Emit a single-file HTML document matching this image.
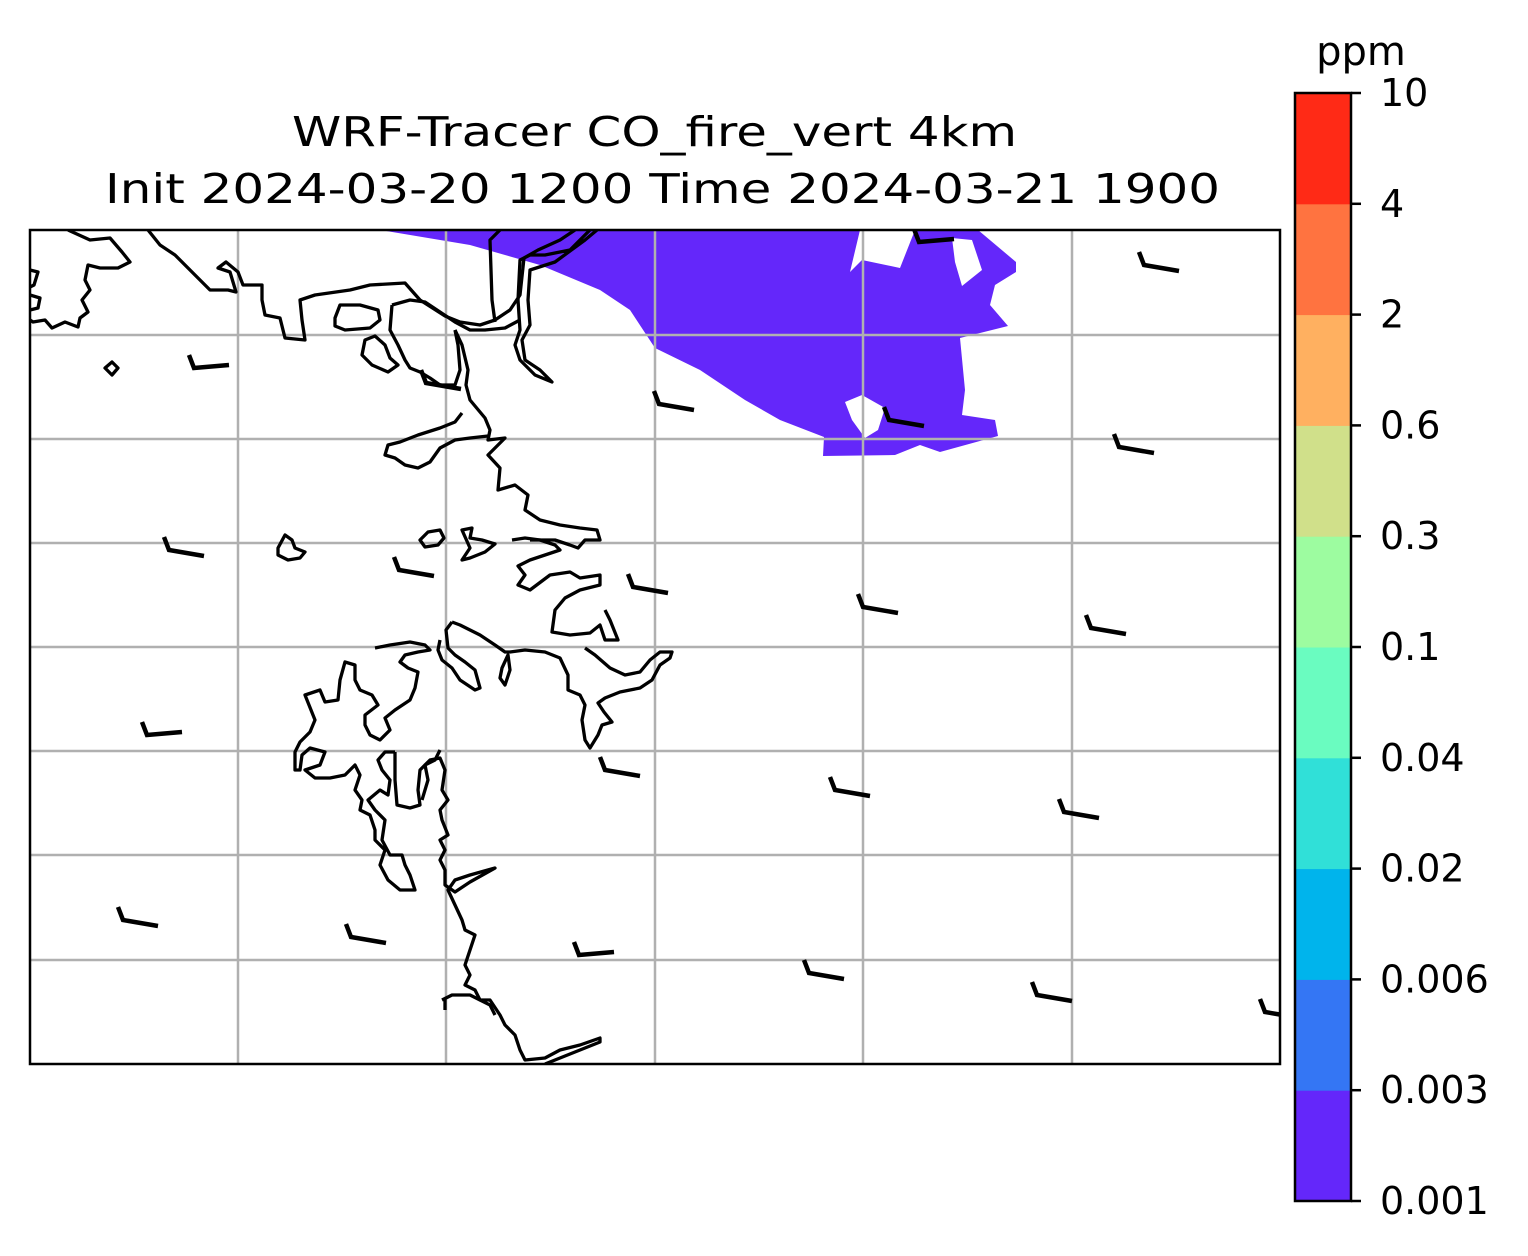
<!DOCTYPE html>
<html><head><meta charset="utf-8"><style>
body{margin:0;background:#fff;}
svg{display:block;font-family:"DejaVu Sans","Liberation Sans",sans-serif;}
</style></head><body>
<svg id="chart" width="1528" height="1256" viewBox="0 0 1528 1256" xmlns="http://www.w3.org/2000/svg">
<rect width="1528" height="1256" fill="#fff"/>
<text x="292" y="146" font-size="41" textLength="725" lengthAdjust="spacingAndGlyphs">WRF-Tracer CO_fire_vert 4km</text>
<text x="105" y="203" font-size="41" textLength="1115" lengthAdjust="spacingAndGlyphs">Init 2024-03-20 1200 Time 2024-03-21 1900</text>
<defs><clipPath id="mapclip"><rect x="30" y="230" width="1250" height="834"/></clipPath></defs>
<g id="map" clip-path="url(#mapclip)">
<path fill="#6427fa" fill-rule="evenodd" d="M380,230 L860,230 L850,272 L862,260 L900,268 L915,230 L978,230 L1016,262 L1016,272 L995,285 L990,305 L1008,326 L960,338 L965,390 L962,415 L995,420 L998,436 L940,452 L920,445 L895,455 L823,456 L824,437 L780,420 L745,400 L700,370 L655,348 L630,310 L600,290 L540,265 L470,245 Z M845,402 L862,395 L885,408 L878,430 L865,438 L852,420 Z M952,238 L972,240 L982,270 L962,286 L955,262 Z"/>
<g id="grid" stroke="#b0b0b0" stroke-width="2.5"></g>
<g fill="none" stroke="#000" stroke-width="3.3" stroke-linejoin="round">
<path d="M68,230 L90,240 L110,238 L122,252 L130,262 L118,268 L100,268 L88,265 L85,280 L90,290 L82,300 L88,312 L80,318 L78,327 L65,322 L52,328 L45,320 L33,322 L30,320"/>
<path d="M30,270 L38,272 L34,285 L30,287 M30,295 L40,298 L38,308 L30,310"/>
<path d="M148,230 L160,245 L175,255 L195,275 L210,290 L228,290 L236,292 L230,272 L218,268 L226,262 L238,272 L243,285 L262,285 L262,300 L265,315 L280,318 L285,338 L305,340 L302,320 L300,300 L315,295 L350,290 L370,285 L405,283 L420,300 L445,316 L460,322 L480,325 L495,320 L510,310 L520,295 L524,258 L538,250 L560,240 L575,230"/>
<path d="M500,230 L490,240 L492,300 L495,322 M590,230 L570,250 L545,255 L530,255 L520,260 L518,300 L520,330 L515,345 L520,360 L535,375 L552,382 L540,370 L525,360 L522,340 L530,325 L528,300 L530,270 L555,262 L585,240 L597,230"/>
<path d="M335,318 L340,305 L360,305 L378,310 L380,320 L370,328 L345,330 L335,326 Z"/>
<path d="M392,305 L410,300 L425,302 L440,312 L455,322 L470,330 L485,330 L505,328 L520,320 M392,305 L390,330 L398,345 L405,360 L410,368 L420,372 L430,378 L440,385 L455,385 L460,370 L458,345 L455,330"/>
<path d="M365,340 L375,336 L385,345 L390,358 L398,365 L388,372 L372,365 L362,355 Z"/>
<path d="M455,330 L462,345 L468,370 L466,385 L470,400 L485,418 L490,430 L488,440 L505,438 L488,455 L500,468 L498,490 L515,485 L528,495 L525,510 L540,520 L560,525 L580,528 L597,530 L600,540 L585,540 L578,548 L570,545 L555,540 L540,540 L530,540"/>
<path d="M488,436 L470,438 L455,440 L440,448 L430,462 L418,468 L405,465 L395,458 L385,455 L388,445 L400,442 L418,435 L440,428 L455,422 L462,413"/>
<path d="M105,368 L112,362 L118,368 L112,375 Z"/>
<path d="M278,548 L285,535 L292,540 L295,548 L305,552 L300,558 L288,560 L278,555 Z"/>
<path d="M420,540 L428,532 L440,530 L444,538 L438,545 L425,547 Z"/>
<path d="M462,530 L472,528 L470,538 L482,540 L495,544 L485,552 L470,558 L462,560 L470,548 Z"/>
<path d="M512,540 L525,538 L540,540 L555,545 L560,550 L545,555 L530,560 L518,566 L525,575 L518,585 L530,590 L550,575 L570,572 L580,578 L600,575 L600,585 L580,590 L565,598 L555,610 L552,632 L570,635 L590,633 L600,625 L605,640 L618,640 L610,620 L605,610"/>
<path d="M452,622 L460,625 L480,635 L495,645 L505,652 L510,652 L525,650 L545,652 L560,658 L568,675 L568,690 L580,695 L585,705 L582,720 L585,740 L590,748 L598,735 L602,725 L612,722 L604,712 L598,703 L605,698 L620,692 L640,688 L652,680 L660,665 L670,658 L672,652 L660,652 L650,660 L640,672 L625,675 L610,668 L595,655 L585,648 M452,622 L446,630 L448,648 L455,655 L465,662 L475,670 L480,688 L475,690 L460,680 L452,668 L442,660 L438,650 L440,640"/>
<path d="M508,655 L502,668 L500,678 L505,685 L510,670 Z"/>
<path d="M375,648 L390,645 L410,642 L425,645 L430,650 L418,652 L405,655 L400,662 L408,668 L418,672 L415,688 L410,700 L395,710 L385,718 L390,730 L380,740 L370,735 L365,725 L365,715 L378,705 L372,695 L360,690 L355,680 L355,665 L345,662 L340,680 L338,700 L325,702 L320,690 L305,695 L315,720 L310,732 L300,742 L295,752 L295,770 L300,770 L302,755 L310,748 L325,752 L320,765 L305,770 L315,778 L330,778 L345,775 L355,765 L360,775 L355,790 L362,800 L360,810 L370,815 L375,830 L375,840 L385,850 L380,865 L388,880 L400,890 L415,890 L410,875 L405,865 L402,855 L390,855 L382,840 L385,820 L375,810 L368,800 L380,790 L388,795 L390,780 L382,770 L378,760 L385,752 L395,752"/>
<path d="M395,752 L395,780 L397,805 L410,808 L420,805 L418,790 L420,770 L430,760 L440,758 L445,770 L442,790 L448,800 L440,810 L442,820 L448,835 L440,840 L445,850 L440,860 L445,870 L445,885 L455,892 L470,882 L495,868 L470,875 L455,880 L448,890 L455,905 L462,920 L465,930 L475,935 L470,950 L465,965 L470,975 L465,985 L475,990 L480,1000 L490,1000 L500,1015 L505,1025 L515,1035 L520,1050 L525,1060 L545,1058 L560,1050 L580,1045 L600,1038 L600,1042 L580,1050 L560,1058 L545,1064"/>
<path d="M442,1000 L452,995 L470,995 L490,1005 L495,1015 M445,998 L445,1010"/>
<path d="M440,750 L435,760 L425,765 L428,780 L422,800"/>
</g>
<g id="barbs" fill="none" stroke="#000" stroke-width="4.5" stroke-linejoin="miter"></g>
</g>
<rect x="30" y="230" width="1250" height="834" fill="none" stroke="#000" stroke-width="2.5"/>
<g id="cbar"></g>
<text x="1361" y="65" font-size="40" text-anchor="middle">ppm</text>
<script>
const levels = ["0.001","0.003","0.006","0.02","0.04","0.1","0.3","0.6","2","4","10"];
const colors = ["#6427fa","#3476f4","#00b4ec","#30e0d8","#6afcc0","#9dfca0","#d0e08a","#ffb060","#ff7340","#ff2a16"];
const gridX = [238,446,655,863,1072];
const gridY = [335,439,543,647,751,855,960];
const barbX = [193,425,658,888,1118,1143,918,168,398,632,862,1090,146,604,834,1063,122,350,578,808,1036,1264];
const barbY = [368,383,404,420,447,265,242,550,570,587,607,628,735,770,790,812,920,937,955,973,995,1012];
const NS="http://www.w3.org/2000/svg";
const gridG=document.getElementById('grid');
gridX.forEach(x=>{const l=document.createElementNS(NS,'line');


l.setAttribute('x1',x);l.setAttribute('x2',x);l.setAttribute('y1',230);l.setAttribute('y2',1064);gridG.appendChild(l);});
gridY.forEach(y=>{const l=document.createElementNS(NS,'line');


l.setAttribute('x1',30);l.setAttribute('x2',1280);l.setAttribute('y1',y);l.setAttribute('y2',y);gridG.appendChild(l);});
const barbG=document.getElementById('barbs');
barbX.forEach((x,i)=>{const y=barbY[i];const p=document.createElementNS(NS,'path');


p.setAttribute('d',`M${x-4},${y-13} L${x+1},${y} L${x+36},${y+(i%6===0?-3:6)}`);barbG.appendChild(p);});
const cbG=document.getElementById('cbar');
const cbX=1295,cbW=56,cbTop=93,cbBot=1201;
const segH=(cbBot-cbTop)/colors.length;
const yOf=k=>cbBot-k*segH;
colors.forEach((c,k)=>{const r=document.createElementNS(NS,'rect');


r.setAttribute('x',cbX);r.setAttribute('y',yOf(k+1));r.setAttribute('width',cbW);r.setAttribute('height',segH+0.5);r.setAttribute('fill',c);cbG.appendChild(r);});
const fr=document.createElementNS(NS,'rect');


fr.setAttribute('x',cbX);fr.setAttribute('y',cbTop);fr.setAttribute('width',cbW);fr.setAttribute('height',cbBot-cbTop);fr.setAttribute('fill','none');fr.setAttribute('stroke','#000');fr.setAttribute('stroke-width','2.5');cbG.appendChild(fr);
levels.forEach((lab,k)=>{const y=yOf(k);
const t=document.createElementNS(NS,'line');


t.setAttribute('x1',cbX+cbW);t.setAttribute('x2',cbX+cbW+10);t.setAttribute('y1',y);t.setAttribute('y2',y);t.setAttribute('stroke','#000');t.setAttribute('stroke-width','2.5');cbG.appendChild(t);
const tx=document.createElementNS(NS,'text');


tx.setAttribute('x',1380);tx.setAttribute('y',y+13);tx.setAttribute('font-size','38');tx.textContent=lab;cbG.appendChild(tx);});
</script>
</svg>
</body></html>
